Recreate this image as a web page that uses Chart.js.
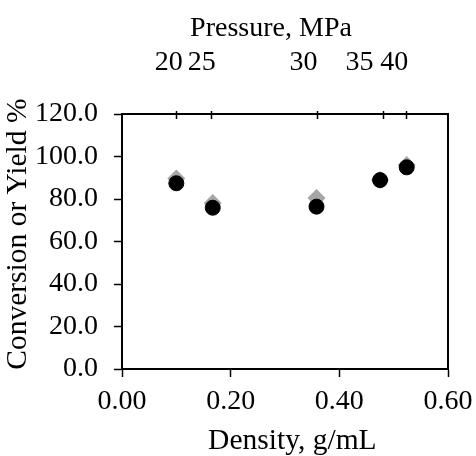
<!DOCTYPE html>
<html>
<head>
<meta charset="utf-8">
<script src="https://cdn.jsdelivr.net/npm/chart.js@4/dist/chart.umd.min.js"></script>
<style>
  body { margin: 0; background: #fff; }
  #wrap { width: 476px; height: 456px; }
</style>
</head>
<body>
<div id="wrap"><canvas id="chart" width="476" height="456"></canvas></div>
<script>
// density (g/mL) of each run
const density = [0.100, 0.167, 0.358, 0.475, 0.524];
// conversion (grey diamonds) and yield (black circles), %
const conversion = [89.7, 78.1, 80.5, 89.0, 96.0];
const yieldPct = [87.4, 75.9, 76.4, 88.9, 94.9];

// top axis: pressure marks at their density, labels set a bit to the left
const pressureLabels = ['20', '25', '30', '35', '40'];
const pressureAt = [0.100, 0.163, 0.358, 0.480, 0.522];
const pressureLabelAt = [0.086, 0.147, 0.334, 0.437, 0.501];

const xTicks = [0, 0.2, 0.4, 0.6];
const yTicks = [0, 20, 40, 60, 80, 100, 120];

const FONT = 'Liberation Serif';

function toPoints(xs, ys) {
    return xs.map((x, i) => ({ x: x, y: ys[i] }));
}

// tick marks of the pressure axis (they cross the top frame line)
const pressureMarks = {
    id: 'pressureMarks',
    afterDraw(chart) {
        const sc = chart.scales.x2;
        const ctx = chart.ctx;
        const top = chart.chartArea.top;
        ctx.save();
        ctx.strokeStyle = '#000';
        ctx.lineWidth = 1.5;
        pressureAt.forEach(v => {
            const px = Math.round(sc.getPixelForValue(v)) + 0.5;
            ctx.beginPath();
            ctx.moveTo(px, top - 3);
            ctx.lineTo(px, top + 5);
            ctx.stroke();
        });
        ctx.restore();
    }
};

new Chart(document.getElementById('chart'), {
    type: 'scatter',
    data: {
        datasets: [
            {
                label: 'Yield',
                data: toPoints(density, yieldPct),
                pointStyle: 'circle',
                pointRadius: 7.5,
                borderWidth: 1,
                backgroundColor: '#000',
                borderColor: '#000',
                order: 0
            },
            {
                label: 'Conversion',
                data: toPoints(density, conversion),
                pointStyle: 'rectRot',
                pointRadius: 9,
                borderWidth: 0,
                backgroundColor: '#a6a6a6',
                borderColor: '#a6a6a6',
                order: 1
            }
        ]
    },
    options: {
        responsive: false,
        animation: false,
        layout: { padding: { left: 0, right: 28, top: 0, bottom: 0 } },
        plugins: { legend: { display: false }, tooltip: { enabled: false } },
        scales: {
            x: {
                type: 'linear',
                position: 'bottom',
                min: 0, max: 0.6,
                afterBuildTicks: s => { s.ticks = xTicks.map(v => ({ value: v })); },
                afterFit: s => { s.height = 87; s.paddingLeft = 0; s.paddingRight = 0; },
                ticks: {
                    color: '#000',
                    padding: 8,
                    maxRotation: 0,
                    font: { family: FONT, size: 28 },
                    callback: v => Number(v).toFixed(2)
                },
                grid: { drawOnChartArea: false, tickLength: 8, tickWidth: 1.5, color: '#000' },
                border: { display: true, color: '#000', width: 2 },
                title: {
                    display: true, text: '  Density, g/mL', color: '#000',
                    font: { family: FONT, size: 29.5 },
                    padding: { top: 0, bottom: -3 }
                }
            },
            x2: {
                type: 'linear',
                position: 'top',
                min: 0, max: 0.6,
                afterBuildTicks: s => { s.ticks = pressureLabelAt.map(v => ({ value: v })); },
                afterFit: s => { s.height = 114; s.paddingLeft = 0; s.paddingRight = 0; },
                ticks: {
                    color: '#000',
                    padding: 35,
                    maxRotation: 0,
                    autoSkip: false,
                    font: { family: FONT, size: 28 },
                    callback: (v, i) => pressureLabels[i]
                },
                grid: { drawOnChartArea: false, drawTicks: false },
                border: { display: true, color: '#000', width: 2 },
                title: {
                    display: true, text: 'Pressure, MPa    ', color: '#000',
                    font: { family: FONT, size: 28 },
                    padding: { top: 12, bottom: 0 }
                }
            },
            y: {
                type: 'linear',
                position: 'left',
                min: 0, max: 120,
                afterBuildTicks: s => { s.ticks = yTicks.map(v => ({ value: v })); },
                afterFit: s => { s.width = 122; },
                ticks: {
                    color: '#000',
                    padding: 16,
                    font: { family: FONT, size: 28 },
                    callback: v => Number(v).toFixed(1)
                },
                grid: { drawOnChartArea: false, tickLength: 8, tickWidth: 1.5, color: '#000' },
                border: { display: true, color: '#000', width: 2 },
                title: {
                    display: true, text: '  Conversion or Yield %', color: '#000',
                    font: { family: FONT, size: 29.5 },
                    padding: { top: 1, bottom: 0 }
                }
            },
            y2: {
                type: 'linear',
                position: 'right',
                min: 0, max: 120,
                afterFit: s => { s.width = 0; },
                ticks: { display: false },
                grid: { display: false },
                border: { display: true, color: '#000', width: 2 }
            }
        }
    },
    plugins: [pressureMarks]
});
</script>
</body>
</html>
